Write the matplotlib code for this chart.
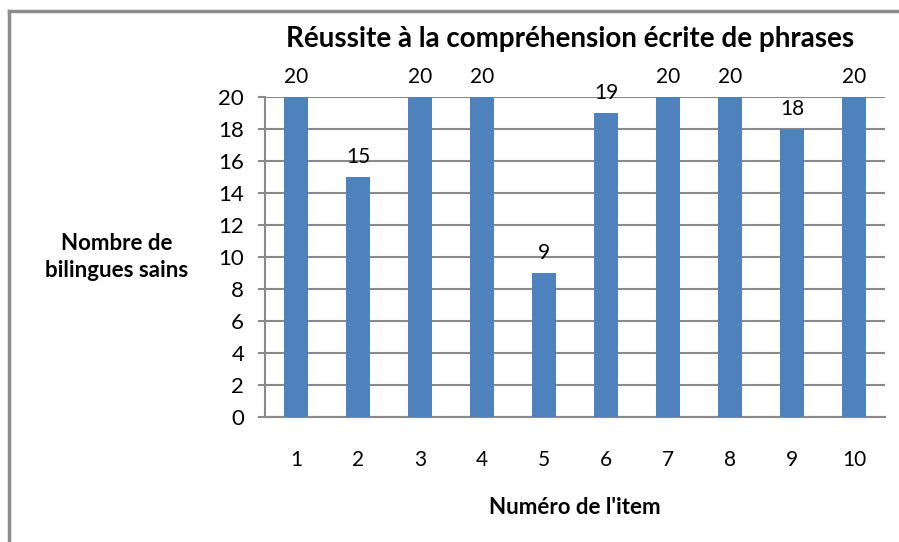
import matplotlib.pyplot as plt
from matplotlib.lines import Line2D

items = ['1', '2', '3', '4', '5', '6', '7', '8', '9', '10']
values = [20, 15, 20, 20, 9, 19, 20, 20, 18, 20]
yticks = list(range(0, 21, 2))

plt.rcParams['font.family'] = ['Lato', 'DejaVu Sans']

grid_col = '#8a8a8a'
bar_col = '#4f81bd'

fig = plt.figure(figsize=(8.99, 5.42), dpi=100)
ax = fig.add_axes([265 / 899, 1 - 417 / 542, 620 / 899, 320 / 542])

pos = list(range(1, len(items) + 1))
bars = ax.bar(pos, values, width=0.4, color=bar_col, zorder=3)
for b, v in zip(bars, values):
    ax.annotate(str(v), (b.get_x() + b.get_width() / 2, v),
                xytext=(0, 7.5), textcoords='offset points',
                ha='center', va='bottom', fontsize=15)

ax.set_xlim(0.5, 10.5)
ax.set_ylim(0, 20)
ax.set_yticks(yticks)
ax.set_xticks(pos)
ax.set_xticklabels(items)
ax.tick_params(axis='x', length=0, pad=24, labelsize=15)
ax.tick_params(axis='y', length=5, width=1.5, color=grid_col, pad=10, labelsize=16)
ax.yaxis.grid(True, color=grid_col, linewidth=1.5, zorder=0)
ax.set_axisbelow(True)
for s in ('top', 'right'):
    ax.spines[s].set_visible(False)
for s in ('left', 'bottom'):
    ax.spines[s].set_color(grid_col)
    ax.spines[s].set_linewidth(1.5)

fig.text(570 / 899, 1 - 47 / 542, 'Réussite à la compréhension écrite de phrases',
         ha='center', va='baseline', fontsize=20, fontweight='bold')
fig.text(117 / 899, 1 - 257 / 542, 'Nombre de\nbilingues sains',
         ha='center', va='center', fontsize=16, fontweight='bold', linespacing=1.4)
fig.text(575 / 899, 1 - 507 / 542, "Numéro de l'item",
         ha='center', va='center', fontsize=16, fontweight='bold')

# chart area border (left and top visible)
fig.add_artist(Line2D([9 / 899, 9 / 899], [0, 1 - 11 / 542], color='#8c8c8c', linewidth=2.5))
fig.add_artist(Line2D([9 / 899, 1], [1 - 11 / 542, 1 - 11 / 542], color='#8c8c8c', linewidth=2.5))

fig.savefig('out.png', dpi=100)
